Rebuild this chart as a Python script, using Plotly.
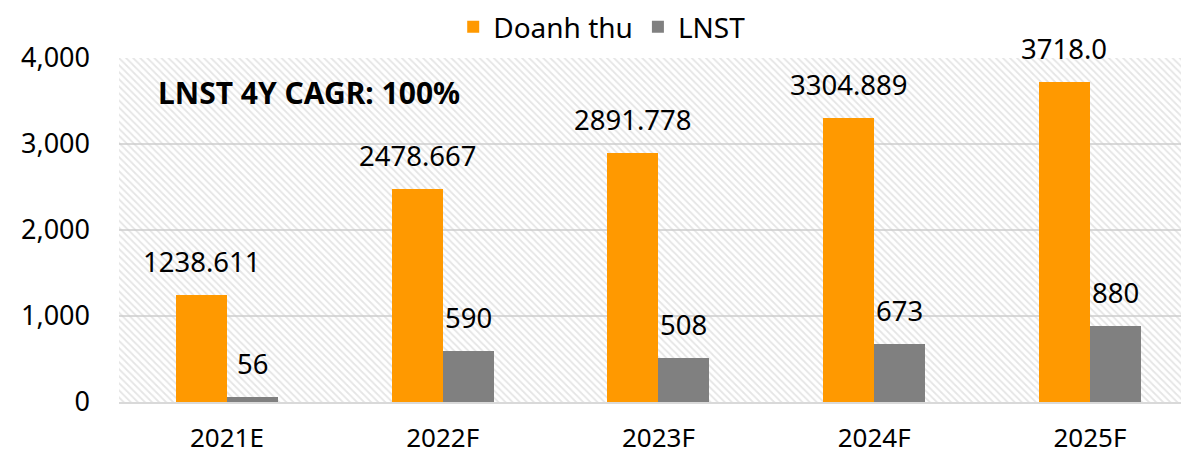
import plotly.graph_objects as go

categories = ["2021E", "2022F", "2023F", "2024F", "2025F"]
doanh_thu = [1238.611, 2478.667, 2891.778, 3304.889, 3718.0]
doanh_thu_labels = ["1238.611", "2478.667", "2891.778", "3304.889", "3718.0"]
lnst = [56, 590, 508, 673, 880]
lnst_labels = ["56", "590", "508", "673", "880"]
y_ticks = [0, 1000, 2000, 3000, 4000]
y_ticktext = ["0", "1,000", "2,000", "3,000", "4,000"]
note_text = "<b>LNST 4Y CAGR: 100%</b>"

FONT = "Noto Sans"
ORANGE = "#FF9900"
GREY = "#808080"
GRID = "#d9d9d9"

x_idx = list(range(len(categories)))
bar_w = 0.236
x_range = [-0.5, 4.422]
y_range = [0, 4000]

fig = go.Figure()

# hatched plot-area background
fig.add_trace(go.Bar(
    x=[(x_range[0] + x_range[1]) / 2], y=[y_range[1]], width=[x_range[1] - x_range[0]],
    marker=dict(color="rgba(255,255,255,0)", line=dict(width=0),
                pattern=dict(shape="\\", size=5, solidity=0.35,
                             fgcolor="#cccccc", bgcolor="rgba(255,255,255,0)")),
    showlegend=False, hoverinfo="skip"))

fig.add_trace(go.Bar(name="Doanh thu", x=x_idx, y=doanh_thu, width=bar_w, offset=-bar_w,
                     marker=dict(color=ORANGE, line=dict(width=0))))
fig.add_trace(go.Bar(name="LNST", x=x_idx, y=lnst, width=bar_w, offset=0,
                     marker=dict(color=GREY, line=dict(width=0))))

for i in x_idx:
    fig.add_annotation(x=i - bar_w / 2, y=doanh_thu[i], text=doanh_thu_labels[i],
                       showarrow=False, yanchor="bottom", yshift=13,
                       font=dict(family=FONT, size=27.5, color="black"))
    fig.add_annotation(x=i + bar_w / 2, y=lnst[i], text=lnst_labels[i],
                       showarrow=False, yanchor="bottom", yshift=13,
                       font=dict(family=FONT, size=27.5, color="black"))

fig.add_annotation(xref="paper", yref="paper", x=0.035, y=0.90, xanchor="left", yanchor="middle",
                   text=note_text, showarrow=False,
                   font=dict(family=FONT, size=30, color="black"))

fig.update_layout(
    width=1181, height=455,
    margin=dict(l=119, r=0, t=58, b=53),
    barmode="overlay",
    plot_bgcolor="white", paper_bgcolor="white",
    font=dict(family=FONT, size=27, color="black"),
    legend=dict(orientation="h", x=0.455, xanchor="center", y=1.09, yanchor="middle",
                font=dict(family=FONT, size=28), itemwidth=30, traceorder="normal"),
    xaxis=dict(range=x_range, tickvals=x_idx, ticktext=categories, showgrid=False,
               showline=True, linecolor=GRID, linewidth=2, ticks="", ticklabelstandoff=12,
               zeroline=False, automargin=False, tickfont=dict(family=FONT, size=26)),
    yaxis=dict(range=y_range, tickvals=y_ticks, ticktext=y_ticktext, showgrid=True,
               gridcolor=GRID, gridwidth=1.5, zeroline=False, showline=False,
               ticks="", ticklabelstandoff=28, automargin=False,
               tickfont=dict(family=FONT, size=27)),
    bargap=0,
)

fig.write_html("out.html", config={"displayModeBar": False},
               post_script="document.body.style.margin='0';")
